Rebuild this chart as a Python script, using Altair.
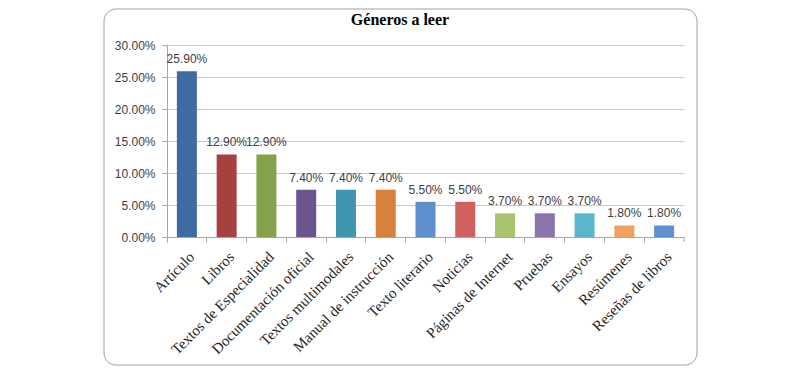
import altair as alt
import pandas as pd

categories = ["Artículo", "Libros", "Textos de Especialidad", "Documentación oficial",
              "Textos multimodales", "Manual de instrucción", "Texto literario", "Noticias",
              "Páginas de Internet", "Pruebas", "Ensayos", "Resúmenes", "Reseñas de libros"]
values = [0.259, 0.129, 0.129, 0.074, 0.074, 0.074, 0.055, 0.055, 0.037, 0.037, 0.037, 0.018, 0.018]
colors = ["#3F6BA2", "#A6413F", "#84A14B", "#6C558F", "#3F96AE", "#D8813C",
          "#5E8FCF", "#CF605E", "#A7C46E", "#8B73AE", "#5CB4CD", "#F0A060", "#5E8FCF"]
y_ticks = [0, 0.05, 0.10, 0.15, 0.20, 0.25, 0.30]
title_text = "Géneros a leer"

df = pd.DataFrame({"cat": categories, "val": values, "col": colors})
tdf = pd.DataFrame({"t": [title_text]})

W, H = 517, 192

xenc_main = alt.X("cat:N", sort=None, title=None,
                  scale=alt.Scale(paddingInner=0, paddingOuter=0),
                  axis=alt.Axis(orient="bottom", labelAngle=-45, ticks=False, domain=False, grid=False,
                                labelFont="Liberation Serif", labelFontSize=15, labelColor="#262626",
                                labelPadding=12, labelLimit=300, labelOverlap=False))

def yenc():
    return alt.Y("val:Q", title=None,
                 scale=alt.Scale(domain=[0, 0.3], nice=False),
                 axis=alt.Axis(values=y_ticks, format=".2%", grid=True, gridColor="#C8C8C8",
                               domainColor="#A6A6A6", tickColor="#A6A6A6", tickSize=5,
                               labelFont="Liberation Sans", labelFontSize=12, labelColor="#404040",
                               labelPadding=7, labelOverlap=False))

bars = alt.Chart(df).mark_bar(size=20).encode(
    x=xenc_main,
    y=yenc(),
    color=alt.Color("col:N", scale=None),
)

labels = alt.Chart(df).mark_text(baseline="alphabetic", dy=-8, font="Liberation Sans",
                                  fontSize=12, color="#404040").encode(
    x=alt.X("cat:N", sort=None, title=None,
            scale=alt.Scale(paddingInner=0, paddingOuter=0),
            axis=alt.Axis(orient="bottom", labels=False, bandPosition=0, ticks=True, tickSize=5,
                          tickColor="#A6A6A6", domainColor="#A6A6A6", grid=False)),
    y=yenc(),
    text=alt.Text("val:Q", format=".2%"),
)

end_tick = alt.Chart(tdf).mark_rule(color="#A6A6A6").encode(
    x=alt.value(W), y=alt.value(H), y2=alt.value(H + 5))

title = alt.Chart(tdf).mark_text(font="Liberation Serif", fontSize=16, fontWeight="bold",
                                 color="#000000", align="center", baseline="alphabetic").encode(
    x=alt.value(233), y=alt.value(-20), text="t:N")

box = alt.Chart(tdf).mark_rect(fillOpacity=0, stroke="#A0A0A0", strokeWidth=1, cornerRadius=12).encode(
    x=alt.value(-63), x2=alt.value(530), y=alt.value(-36), y2=alt.value(320))

chart = alt.layer(box, bars, labels, end_tick, title).resolve_axis(x="independent").properties(
    width=W, height=H,
    padding={"left": 159, "top": 37, "right": 111, "bottom": 129},
    autosize=alt.AutoSizeParams(type="none"),
).configure_view(stroke=None)

chart.save("out.html", embed_options={"renderer": "svg", "actions": False})
